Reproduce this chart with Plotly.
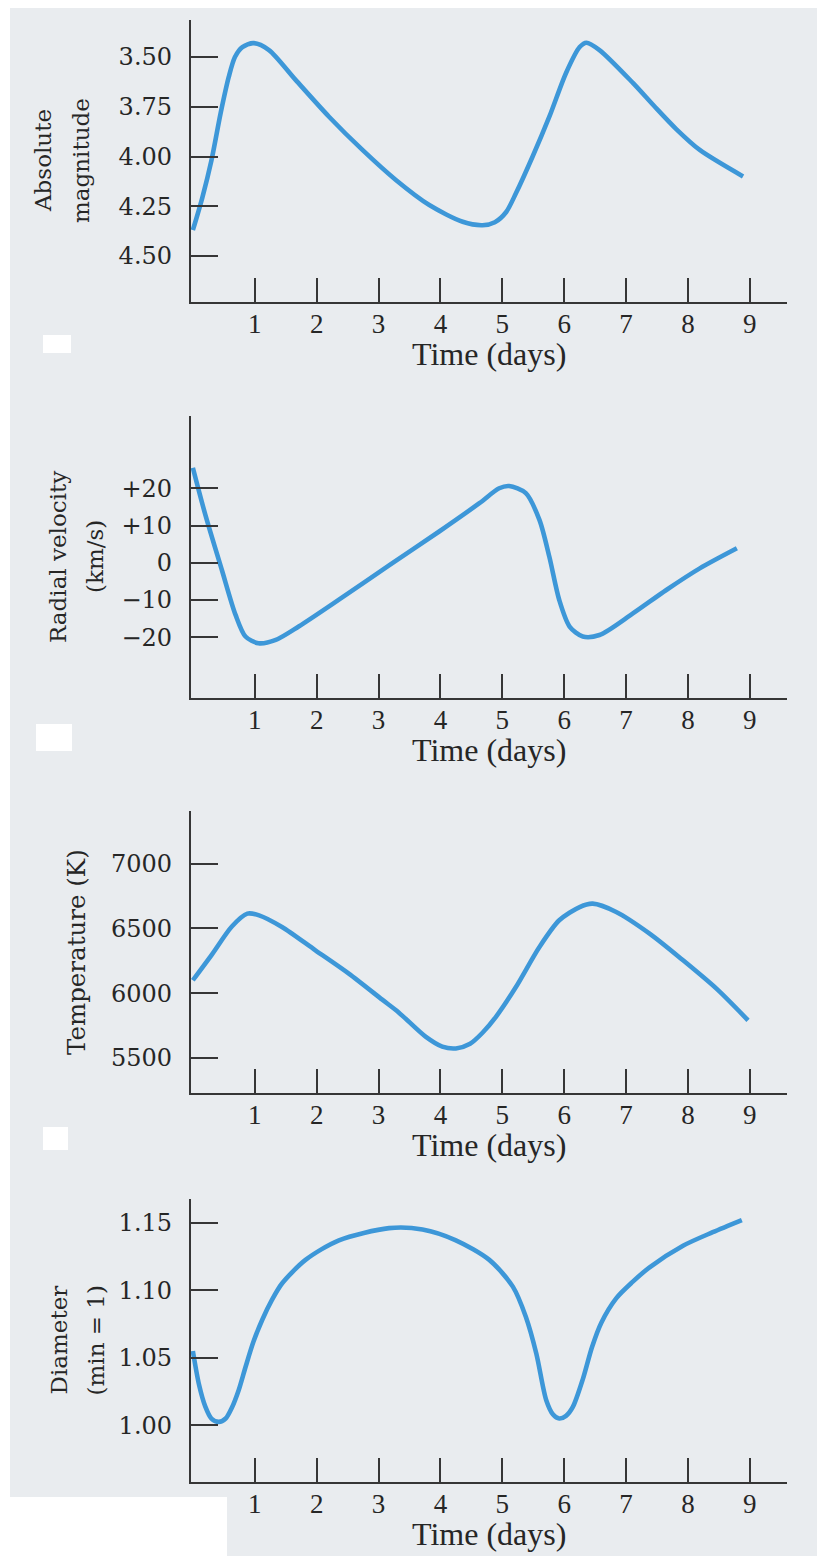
import plotly.graph_objects as go

# ---------------- data ----------------
mag_days = [0, 0.15, 0.3, 0.45, 0.58, 0.68, 0.8, 0.98, 1.23, 1.66, 2.2, 2.74, 3.28, 3.82,
            4.36, 4.68, 4.88, 5.06, 5.22, 5.49, 5.76, 6.03, 6.25, 6.36, 6.57, 7.11,
            7.45, 7.81, 8.19, 8.89]
mag_vals = [4.37, 4.21, 4.02, 3.78, 3.60, 3.50, 3.45, 3.43, 3.465, 3.615, 3.80, 3.967, 4.118,
            4.244, 4.328, 4.345, 4.33, 4.28, 4.185, 4.00, 3.80, 3.58, 3.45, 3.428, 3.465,
            3.63, 3.745, 3.862, 3.967, 4.10]

vel_days = [0, 0.2, 0.47, 0.69, 0.85, 1.06, 1.34, 1.71, 2.36, 3.17, 3.98, 4.63, 4.95, 5.11,
            5.38, 5.6, 5.76, 5.92, 6.09, 6.3, 6.57, 7.11, 7.65, 8.19, 8.79]
vel_vals = [25.5, 13, -2, -14, -19.8, -21.6, -20.7, -17.1, -9.9, -0.7, 8.4, 16.0, 20.0,
            20.6, 18.7, 11.5, 1.6, -10, -17.2, -19.8, -19.4, -13.6, -7.3, -1.5, 3.9]

temp_days = [0, 0.31, 0.63, 0.88, 1.07, 1.44, 1.98, 2.52, 3.06, 3.33, 3.76, 4.03, 4.25,
             4.48, 4.68, 4.9, 5.22, 5.6, 5.92, 6.25, 6.46, 6.84, 7.38, 7.92, 8.46, 8.97]
temp_vals = [6100, 6300, 6515, 6614, 6601, 6511, 6331, 6151, 5950, 5850, 5665, 5588, 5574,
             5610, 5695, 5820, 6048, 6357, 6563, 6665, 6691, 6627, 6460, 6254, 6035, 5791]

diam_days = [0, 0.1, 0.2, 0.3, 0.42, 0.53, 0.63, 0.74, 0.85, 0.98, 1.12, 1.28, 1.44, 1.82,
             2.36, 3.17, 3.71, 4.25, 4.79, 5.17, 5.38, 5.55, 5.71, 5.82, 5.92, 6.03, 6.14,
             6.3, 6.45, 6.6, 6.84, 7.1, 7.38, 7.92, 8.4, 8.87]
diam_vals = [1.055, 1.030, 1.014, 1.005, 1.0025, 1.005, 1.013, 1.026, 1.043, 1.062, 1.078,
             1.093, 1.105, 1.1225, 1.137, 1.146, 1.145, 1.137, 1.1225, 1.1027, 1.0804, 1.053,
             1.0186, 1.008, 1.005, 1.007, 1.0136, 1.034, 1.058, 1.076, 1.094, 1.106, 1.117,
             1.133, 1.143, 1.152]

x_ticks = [1, 2, 3, 4, 5, 6, 7, 8, 9]
x_title = "Time (days)"

mag_ticks = [3.50, 3.75, 4.00, 4.25, 4.50]
mag_labels = ["3.50", "3.75", "4.00", "4.25", "4.50"]
vel_ticks = [20, 10, 0, -10, -20]
vel_labels = ["+20", "+10", "0", "\u221210", "\u221220"]
temp_ticks = [7000, 6500, 6000, 5500]
temp_labels = ["7000", "6500", "6000", "5500"]
diam_ticks = [1.15, 1.10, 1.05, 1.00]
diam_labels = ["1.15", "1.10", "1.05", "1.00"]

y_titles = [["Absolute", "magnitude"], ["Radial velocity", "(km/s)"],
            ["Temperature (K)"], ["Diameter", "(min = 1)"]]

# ---------------- layout geometry ----------------
PAGE_W, PAGE_H = 825, 1556
OFF = 8                       # default page body margin
W, H = PAGE_W - OFF, PAGE_H - OFF
BG = "#e9ecef"
LINE = "#3d97d8"
AX = "#363636"
TXT = "#262626"

def fx(px):                   # page pixel -> paper x
    return (px - OFF) / W

def fy(px):                   # page pixel -> paper y
    return 1 - (px - OFF) / H

panels = [
    dict(days=mag_days, vals=mag_vals, top=20, bot=302, rng=[4.731, 3.314],
         ticks=mag_ticks, labels=mag_labels),
    dict(days=vel_days, vals=vel_vals, top=416, bot=698, rng=[-36.3, 39.4],
         ticks=vel_ticks, labels=vel_labels),
    dict(days=temp_days, vals=temp_vals, top=811, bot=1093, rng=[5230, 7406],
         ticks=temp_ticks, labels=temp_labels),
    dict(days=diam_days, vals=diam_vals, top=1199, bot=1482, rng=[0.958, 1.1676],
         ticks=diam_ticks, labels=diam_labels),
]

x_dom = [fx(191), fx(787)]
x_rng = [-0.03, 9.6]

fig = go.Figure()
layout = dict(width=W, height=H, margin=dict(l=0, r=0, t=0, b=0),
              paper_bgcolor="white", plot_bgcolor="rgba(0,0,0,0)",
              showlegend=False, annotations=[], shapes=[])

# scanned page background
layout["shapes"].append(dict(type="rect", xref="paper", yref="paper", x0=fx(10), x1=fx(818),
                             y0=0, y1=fy(5), fillcolor=BG, line_width=0, layer="below"))
# white patches present on the scan
for (x0, y0, x1, y1) in [(43, 335, 71, 353), (36, 724, 72, 751), (43, 1127, 68, 1150),
                         (10, 1497, 227, 1556)]:
    layout["shapes"].append(dict(type="rect", xref="paper", yref="paper", x0=fx(x0), x1=fx(x1),
                                 y0=fy(y1), y1=fy(y0), fillcolor="white", line_width=0,
                                 layer="below"))

for i, p in enumerate(panels, start=1):
    xa = "x" if i == 1 else f"x{i}"
    ya = "y" if i == 1 else f"y{i}"
    fig.add_trace(go.Scatter(x=p["days"], y=p["vals"], mode="lines", xaxis=xa, yaxis=ya,
                             line=dict(color=LINE, width=4.6, shape="spline", smoothing=0.8),
                             hoverinfo="skip"))
    ydom = [fy(p["bot"]), fy(p["top"])]
    layout[f"xaxis{'' if i == 1 else i}"] = dict(
        domain=x_dom, range=x_rng, anchor=ya, showgrid=False, zeroline=False,
        showline=True, linecolor=AX, linewidth=2.3, ticks="inside", ticklen=24,
        tickwidth=2, tickcolor=AX, tickvals=x_ticks, ticktext=[str(t) for t in x_ticks],
        tickfont=dict(family="Liberation Serif", size=27, color=TXT), ticklabelstandoff=-4)
    layout[f"yaxis{'' if i == 1 else i}"] = dict(
        domain=ydom, range=p["rng"], anchor=xa, showgrid=False, zeroline=False,
        showline=True, linecolor=AX, linewidth=2.3, ticks="inside", ticklen=27,
        tickwidth=2, tickcolor=AX, tickvals=p["ticks"], ticktext=p["labels"],
        tickfont=dict(family="DejaVu Serif", size=24, color=TXT), ticklabelstandoff=12)
    # x-axis title
    layout["annotations"].append(dict(text=x_title, xref="paper", yref="paper",
                                      x=(x_dom[0] + x_dom[1]) / 2, y=fy(p["bot"] + 52),
                                      xanchor="center", yanchor="middle", showarrow=False,
                                      font=dict(family="Liberation Serif", size=32, color=TXT)))
    # y-axis title (one or two rotated lines)
    lines = y_titles[i - 1]
    ymid = fy((p["top"] + p["bot"]) / 2)
    if len(lines) == 1:
        xs = [76]
        fs = 24.5
    else:
        xs = {1: [43, 81], 2: [58, 95], 4: [58, 95]}[i]
        fs = 23
    for txt, xp in zip(lines, xs):
        layout["annotations"].append(dict(text=txt, xref="paper", yref="paper", x=fx(xp), y=ymid,
                                          xanchor="center", yanchor="middle", textangle=-90,
                                          showarrow=False,
                                          font=dict(family="DejaVu Serif", size=fs, color=TXT)))

fig.update_layout(**layout)
fig.write_html("out.html")
